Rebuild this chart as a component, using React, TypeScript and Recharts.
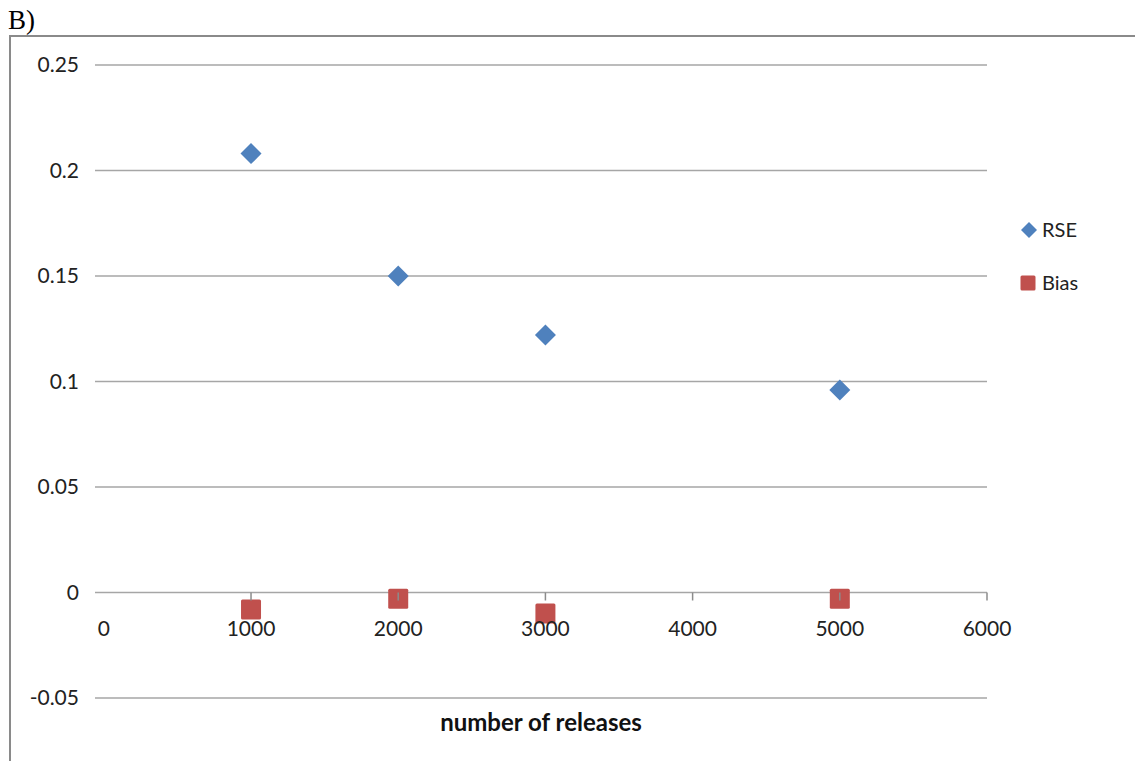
import { ScatterChart, Scatter, XAxis, YAxis, CartesianGrid } from "recharts";

// releases simulated, with relative standard error and bias per run size
const releases = [1000, 2000, 3000, 5000];
const rseValues = [0.208, 0.15, 0.122, 0.096];
const biasValues = [-0.008, -0.003, -0.01, -0.003];

const xTicks = [0, 1000, 2000, 3000, 4000, 5000, 6000];
const yTicks = [-0.05, 0, 0.05, 0.1, 0.15, 0.2, 0.25];

const series = [
  { name: "RSE", color: "#4f81bd", values: rseValues, marker: "diamond" },
  { name: "Bias", color: "#c0504d", values: biasValues, marker: "square" },
];

const W = 1135;
const H = 761;
const MARGIN = { top: 65, right: 148, bottom: 0, left: 0 };
const Y_AXIS_W = 95;
const X_AXIS_H = 63;
const Y_MIN = -0.05;
const Y_MAX = 0.25;

const FONT = "Lato, 'Open Sans', sans-serif";

// the horizontal axis is drawn where y = 0, not along the bottom of the plot
const plotH = H - MARGIN.top - MARGIN.bottom - X_AXIS_H;
const zeroY = MARGIN.top + (plotH * (Y_MAX - 0)) / (Y_MAX - Y_MIN);

function Diamond({ cx, cy, fill, r = 10.5 }: any) {
  return <polygon points={`${cx},${cy - r} ${cx + r},${cy} ${cx},${cy + r} ${cx - r},${cy}`} fill={fill} />;
}

function Square({ cx, cy, fill, s = 20 }: any) {
  return <rect x={cx - s / 2} y={cy - s / 2} width={s} height={s} rx={1.5} fill={fill} />;
}

function XTick({ x, payload }: any) {
  return (
    <g>
      {payload.value !== 0 && <line x1={x} x2={x} y1={zeroY} y2={zeroY + 8} stroke="#8c8c8c" strokeWidth={1.5} />}
      <text x={x} y={zeroY + 43} textAnchor="middle" fontSize={21} fontFamily={FONT} fill="#222">
        {payload.value}
      </text>
    </g>
  );
}

function LegendBox() {
  return (
    <svg width={110} height={100}>
      {series.map((s, i) => {
        const cy = 15 + i * 53;
        return (
          <g key={s.name}>
            {s.marker === "diamond" ? <Diamond cx={14} cy={cy} r={8} fill={s.color} /> : <Square cx={13} cy={cy} s={15} fill={s.color} />}
            <text x={27} y={cy + 7} fontSize={20} fontFamily={FONT} fill="#222">{s.name}</text>
          </g>
        );
      })}
    </svg>
  );
}

export default function App() {
  return (
    <div style={{ position: "absolute", left: 0, top: 0, width: W, height: H, background: "#fff" }}>
      <div style={{ position: "absolute", left: 8, top: 7, fontFamily: "'Liberation Serif', serif", fontSize: 27, lineHeight: 1 }}>
        B)
      </div>
      <div style={{ position: "absolute", left: 9, top: 35, right: 0, bottom: 0, borderTop: "2px solid #8a8a8a", borderLeft: "2px solid #8a8a8a" }} />
      <div style={{ position: "absolute", left: 0, top: 0 }}>
        <ScatterChart width={W} height={H} margin={MARGIN}>
          <CartesianGrid vertical={false} stroke="#a6a6a6" strokeWidth={1.5} />
          <XAxis
            type="number"
            dataKey="x"
            domain={[-60, 6000]}
            ticks={xTicks}
            allowDataOverflow
            height={X_AXIS_H}
            axisLine={false}
            tickLine={false}
            tick={<XTick />}
            label={{ value: "number of releases", position: "insideBottom", offset: 30, fontSize: 24, fontWeight: 700, fontFamily: FONT, fill: "#111" }}
          />
          <YAxis
            type="number"
            dataKey="y"
            domain={[Y_MIN, Y_MAX]}
            ticks={yTicks}
            width={Y_AXIS_W}
            axisLine={false}
            tickLine={false}
            tickSize={0}
            tickMargin={16}
            tick={{ fontSize: 21, fontFamily: FONT, fill: "#222" }}
          />
          {series.map((s) => (
            <Scatter
              key={s.name}
              name={s.name}
              data={releases.map((r, i) => ({ x: r, y: s.values[i] }))}
              fill={s.color}
              shape={s.marker === "diamond" ? <Diamond /> : <Square />}
              isAnimationActive={false}
            />
          ))}
        </ScatterChart>
      </div>
      <div style={{ position: "absolute", left: 1015, top: 215 }}>
        <LegendBox />
      </div>
    </div>
  );
}
